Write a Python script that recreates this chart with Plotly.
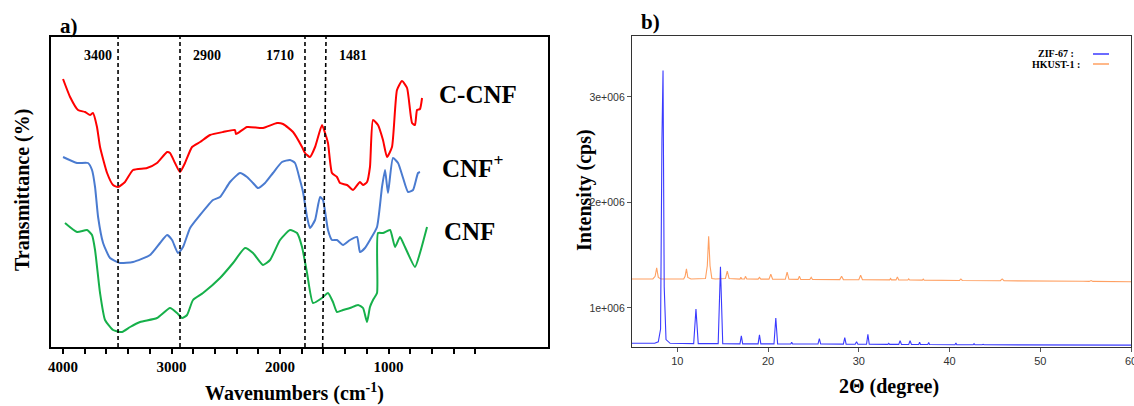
import plotly.graph_objects as go

# ---------------- Panel a: FTIR data ----------------
wn_cccnf = [4000, 3935, 3862, 3797, 3751, 3724, 3687, 3659, 3594, 3539, 3493, 3429, 3355, 3226, 3134, 3041,
            3014, 2968, 2922, 2876, 2811, 2737, 2645, 2525, 2415, 2406, 2304, 2157, 2028, 1972, 1880, 1797,
            1770, 1724, 1677, 1613, 1585, 1558, 1521, 1475, 1447, 1382, 1327, 1263, 1235, 1198, 1171, 1143,
            1097, 1051, 1014, 968, 922, 876, 829, 783, 756, 737, 710, 691]
t_cccnf = [268, 250, 237, 235, 232, 234, 220, 200, 174, 162, 160, 165, 177, 179, 184, 195,
           194, 184, 175, 184, 200, 205, 212, 215, 217, 213, 220, 219, 224, 223, 215, 200,
           194, 190, 200, 222, 214, 204, 174, 170, 164, 162, 157, 165, 162, 165, 180, 227,
           222, 207, 190, 200, 257, 266, 259, 224, 222, 237, 238, 249]

wn_cnfp = [4000, 3871, 3770, 3733, 3705, 3677, 3631, 3567, 3475, 3355, 3198, 3106, 3041, 2995, 2940, 2894,
           2829, 2737, 2618, 2553, 2461, 2369, 2304, 2249, 2203, 2138, 2065, 1982, 1908, 1862, 1816, 1788,
           1751, 1724, 1677, 1631, 1604, 1558, 1521, 1475, 1419, 1355, 1290, 1263, 1217, 1171, 1106, 1060,
           1032, 1005, 959, 912, 866, 820, 774, 728, 710]
t_cnfp = [190, 184, 184, 177, 160, 130, 104, 89, 84, 85, 92, 104, 112, 107, 94, 100,
          119, 132, 147, 150, 165, 174, 170, 164, 159, 164, 174, 185, 187, 184, 167, 155,
          130, 119, 127, 150, 147, 117, 107, 107, 102, 107, 110, 95, 99, 107, 120, 160,
          177, 154, 189, 184, 169, 155, 157, 174, 175]

wn_cnf = [3982, 3871, 3779, 3733, 3705, 3659, 3613, 3539, 3456, 3382, 3290, 3134, 3014, 2949, 2903, 2857,
          2802, 2710, 2553, 2433, 2323, 2249, 2157, 2092, 2000, 1908, 1843, 1797, 1751, 1696, 1613, 1558,
          1512, 1475, 1419, 1355, 1281, 1235, 1198, 1171, 1143, 1106, 1097, 1051, 986, 940, 894, 848,
          756, 710, 645]
t_cnf = [124, 115, 117, 112, 97, 54, 27, 17, 15, 20, 25, 29, 39, 34, 29, 32,
         47, 54, 69, 84, 99, 94, 82, 87, 107, 117, 114, 100, 74, 44, 49, 54,
         45, 35, 37, 39, 42, 39, 25, 40, 47, 54, 114, 114, 117, 100, 110, 100,
         80, 94, 120]

band_labels = ["3400", "2900", "1710", "1481"]
dash_bottom = [3493, 2922, 1770, 1607]
dash_top = [3493, 2922, 1770, 1576]

ftir_tick_vals = [4000, 3800, 3600, 3400, 3200, 3000, 2800, 2600, 2400, 2200, 2000,
                  1800, 1600, 1400, 1200, 1000, 800, 600, 400, 200]
ftir_tick_text = ["4000", "", "", "", "", "3000", "", "", "", "", "2000",
                  "", "", "", "", "1000", "", "", "", ""]

# ---------------- Panel b: XRD data ----------------
tt_zif = [5.0, 6.5, 7.5, 7.9, 8.15, 8.3, 8.42, 8.55, 8.75, 9.2,
          11.8, 12.05, 12.3, 14.5, 14.75, 15.0, 16.9, 17.05, 17.2, 18.9, 19.05, 19.2,
          20.65, 20.85, 21.05, 22.5, 22.6, 22.7, 25.5, 25.65, 25.8, 28.3, 28.45, 28.6,
          29.6, 29.75, 29.9, 30.85, 31.0, 31.15, 33.2, 33.3, 33.4, 34.4, 34.55, 34.7,
          35.5, 35.65, 35.8, 36.6, 36.7, 36.8, 37.6, 37.7, 37.8, 40.6, 40.7, 40.8,
          42.6, 42.7, 42.8, 43.6, 43.7, 43.8, 60.0]
i_zif = [0.665e6, 0.664e6, 0.666e6, 0.68e6, 0.80e6, 2.6e6, 3.25e6, 1.2e6, 0.70e6, 0.665e6,
         0.662e6, 0.99e6, 0.662e6, 0.662e6, 1.39e6, 0.662e6, 0.66e6, 0.735e6, 0.66e6, 0.66e6, 0.745e6, 0.66e6,
         0.66e6, 0.905e6, 0.66e6, 0.658e6, 0.675e6, 0.658e6, 0.658e6, 0.71e6, 0.658e6, 0.657e6, 0.72e6, 0.657e6,
         0.656e6, 0.68e6, 0.656e6, 0.656e6, 0.75e6, 0.656e6, 0.655e6, 0.665e6, 0.655e6, 0.655e6, 0.69e6, 0.655e6,
         0.654e6, 0.69e6, 0.654e6, 0.654e6, 0.675e6, 0.654e6, 0.653e6, 0.672e6, 0.653e6, 0.652e6, 0.668e6, 0.652e6,
         0.651e6, 0.662e6, 0.651e6, 0.651e6, 0.656e6, 0.651e6, 0.648e6]

tt_hk = [5.0, 7.3, 7.55, 7.72, 7.9, 8.2, 10.7, 10.85, 11.0, 11.15, 11.5,
         13.1, 13.3, 13.45, 13.6, 13.8, 14.2, 15.3, 15.5, 15.7, 16.9, 17.0, 17.1, 17.4, 17.5, 17.65,
         18.9, 19.05, 19.2, 20.1, 20.3, 20.5, 21.9, 22.1, 22.3, 23.3, 23.45, 23.6, 24.6, 24.75, 24.9,
         27.9, 28.1, 28.3, 30.0, 30.2, 30.4, 33.4, 33.5, 33.6, 34.1, 34.25, 34.4, 35.4, 35.5, 35.6,
         37.0, 37.1, 37.2, 41.1, 41.25, 41.4, 45.6, 45.8, 46.0, 49.5, 50.0, 54.3, 54.5, 54.7,
         55.4, 55.6, 55.8, 60.0]
i_hk = [1.275e6, 1.275e6, 1.30e6, 1.38e6, 1.29e6, 1.275e6, 1.275e6, 1.30e6, 1.37e6, 1.29e6, 1.275e6,
        1.28e6, 1.40e6, 1.68e6, 1.40e6, 1.28e6, 1.275e6, 1.28e6, 1.35e6, 1.28e6, 1.274e6, 1.29e6, 1.274e6, 1.274e6, 1.30e6, 1.274e6,
        1.273e6, 1.29e6, 1.273e6, 1.273e6, 1.32e6, 1.273e6, 1.272e6, 1.34e6, 1.272e6, 1.271e6, 1.30e6, 1.271e6, 1.27e6, 1.29e6, 1.27e6,
        1.269e6, 1.30e6, 1.269e6, 1.268e6, 1.31e6, 1.268e6, 1.266e6, 1.28e6, 1.266e6, 1.266e6, 1.295e6, 1.266e6, 1.265e6, 1.275e6, 1.265e6,
        1.264e6, 1.273e6, 1.264e6, 1.261e6, 1.275e6, 1.261e6, 1.258e6, 1.275e6, 1.258e6, 1.257e6, 1.256e6, 1.253e6, 1.26e6, 1.253e6,
        1.252e6, 1.26e6, 1.252e6, 1.249e6]

xrd_tick_vals = [10, 20, 30, 40, 50, 60]
xrd_ytick_vals = [1e6, 2e6, 3e6]
xrd_ytick_text = ["1e+006", "2e+006", "3e+006"]

# ---------------- Figure ----------------
W, H = 1134, 406


def px(x):
    return x / W


def py(y):
    return 1 - y / H


SERIF = "Liberation Serif, Times New Roman, serif"
SANS = "Liberation Sans, Arial, sans-serif"

fig = go.Figure()
for xs, ys, col in [(wn_cccnf, t_cccnf, "#ff0000"), (wn_cnfp, t_cnfp, "#4a7bd0"), (wn_cnf, t_cnf, "#16b04a")]:
    fig.add_trace(go.Scatter(x=xs, y=ys, mode="lines",
                             line=dict(color=col, width=2, shape="spline", smoothing=0.5),
                             xaxis="x", yaxis="y", showlegend=False))

fig.add_trace(go.Scatter(x=tt_hk, y=i_hk, mode="lines", line=dict(color="#ffa062", width=1.1),
                         xaxis="x2", yaxis="y2", showlegend=False))
fig.add_trace(go.Scatter(x=tt_zif, y=i_zif, mode="lines", line=dict(color="#3a3aff", width=1.1),
                         xaxis="x2", yaxis="y2", showlegend=False))

shapes = []
for xb, xt in zip(dash_bottom, dash_top):
    shapes.append(dict(type="line", xref="x", yref="y", x0=xb, y0=0, x1=xt, y1=310,
                       line=dict(color="black", width=1.6, dash="4px,3px")))
# legend line samples (panel b)
shapes.append(dict(type="line", xref="paper", yref="paper", x0=px(1093), x1=px(1109), y0=py(54), y1=py(54),
                   line=dict(color="#3a3aff", width=1.5)))
shapes.append(dict(type="line", xref="paper", yref="paper", x0=px(1093), x1=px(1109), y0=py(64), y1=py(64),
                   line=dict(color="#ffa062", width=1.5)))

annotations = []


def ann(text, x, y, size, xanchor="center", yanchor="middle", angle=0, family=SERIF, weight="bold", color="black"):
    annotations.append(dict(text=text, x=px(x), y=py(y), xref="paper", yref="paper", showarrow=False,
                            xanchor=xanchor, yanchor=yanchor, textangle=angle,
                            font=dict(family=family, size=size, color=color, weight=weight)))


band_px = [98, 207, 280, 353]
for lab, xpx in zip(band_labels, band_px):
    ann(lab, xpx, 55, 14)

ann("C-CNF", 437, 94, 25, xanchor="left")
ann("CNF<sup>+</sup>", 440, 166, 25, xanchor="left")
ann("CNF", 442, 231, 25, xanchor="left")

ann("a)", 69, 26, 21)
ann("b)", 650, 22, 21)

ann("Transmittance (%)", 22, 190, 20, angle=-90)
ann("Wavenumbers (cm<sup>-1</sup>)", 294, 392, 20)
ann("Intensity (cps)", 584, 190, 20, angle=-90)
ann("2\u0398 (degree)", 889, 386, 20)

ann("ZIF-67 :", 1056, 54, 10)
ann("HKUST-1 :", 1056, 64, 10)

fig.update_layout(
    width=W, height=H,
    margin=dict(l=0, r=0, t=0, b=0),
    paper_bgcolor="white", plot_bgcolor="white",
    template="none",
    xaxis=dict(domain=[px(51), px(548)], range=[4111, -470], anchor="y",
               tickmode="array", tickvals=ftir_tick_vals, ticktext=ftir_tick_text,
               ticks="outside", ticklen=5, tickwidth=1.5, tickcolor="black",
               ticklabelstandoff=0,
               tickfont=dict(family=SERIF, size=15, color="black", weight="bold"),
               showline=True, linewidth=2, linecolor="black", mirror=True,
               showgrid=False, zeroline=False),
    yaxis=dict(domain=[py(347), py(37)], range=[0, 310], anchor="x",
               showticklabels=False, ticks="",
               showline=True, linewidth=2, linecolor="black", mirror=True,
               showgrid=False, zeroline=False),
    xaxis2=dict(domain=[px(632), px(1131)], range=[5, 60], anchor="y2",
                tickmode="array", tickvals=xrd_tick_vals, ticklabeloverflow="allow",
                ticks="outside", ticklen=4, tickwidth=1, tickcolor="#555",
                tickfont=dict(family=SANS, size=11, color="#333"),
                showline=True, linewidth=1.3, linecolor="#333", mirror=True,
                showgrid=False, zeroline=False),
    yaxis2=dict(domain=[py(347), py(36)], range=[0.63e6, 3.578e6], anchor="x2",
                tickmode="array", tickvals=xrd_ytick_vals, ticktext=xrd_ytick_text,
                ticks="outside", ticklen=4, tickwidth=1, tickcolor="#555",
                tickfont=dict(family=SANS, size=10.5, color="#333"),
                showline=True, linewidth=1.3, linecolor="#333", mirror=True,
                showgrid=False, zeroline=False),
    shapes=shapes,
    annotations=annotations,
    showlegend=False,
)

fig.write_html("out.html")
